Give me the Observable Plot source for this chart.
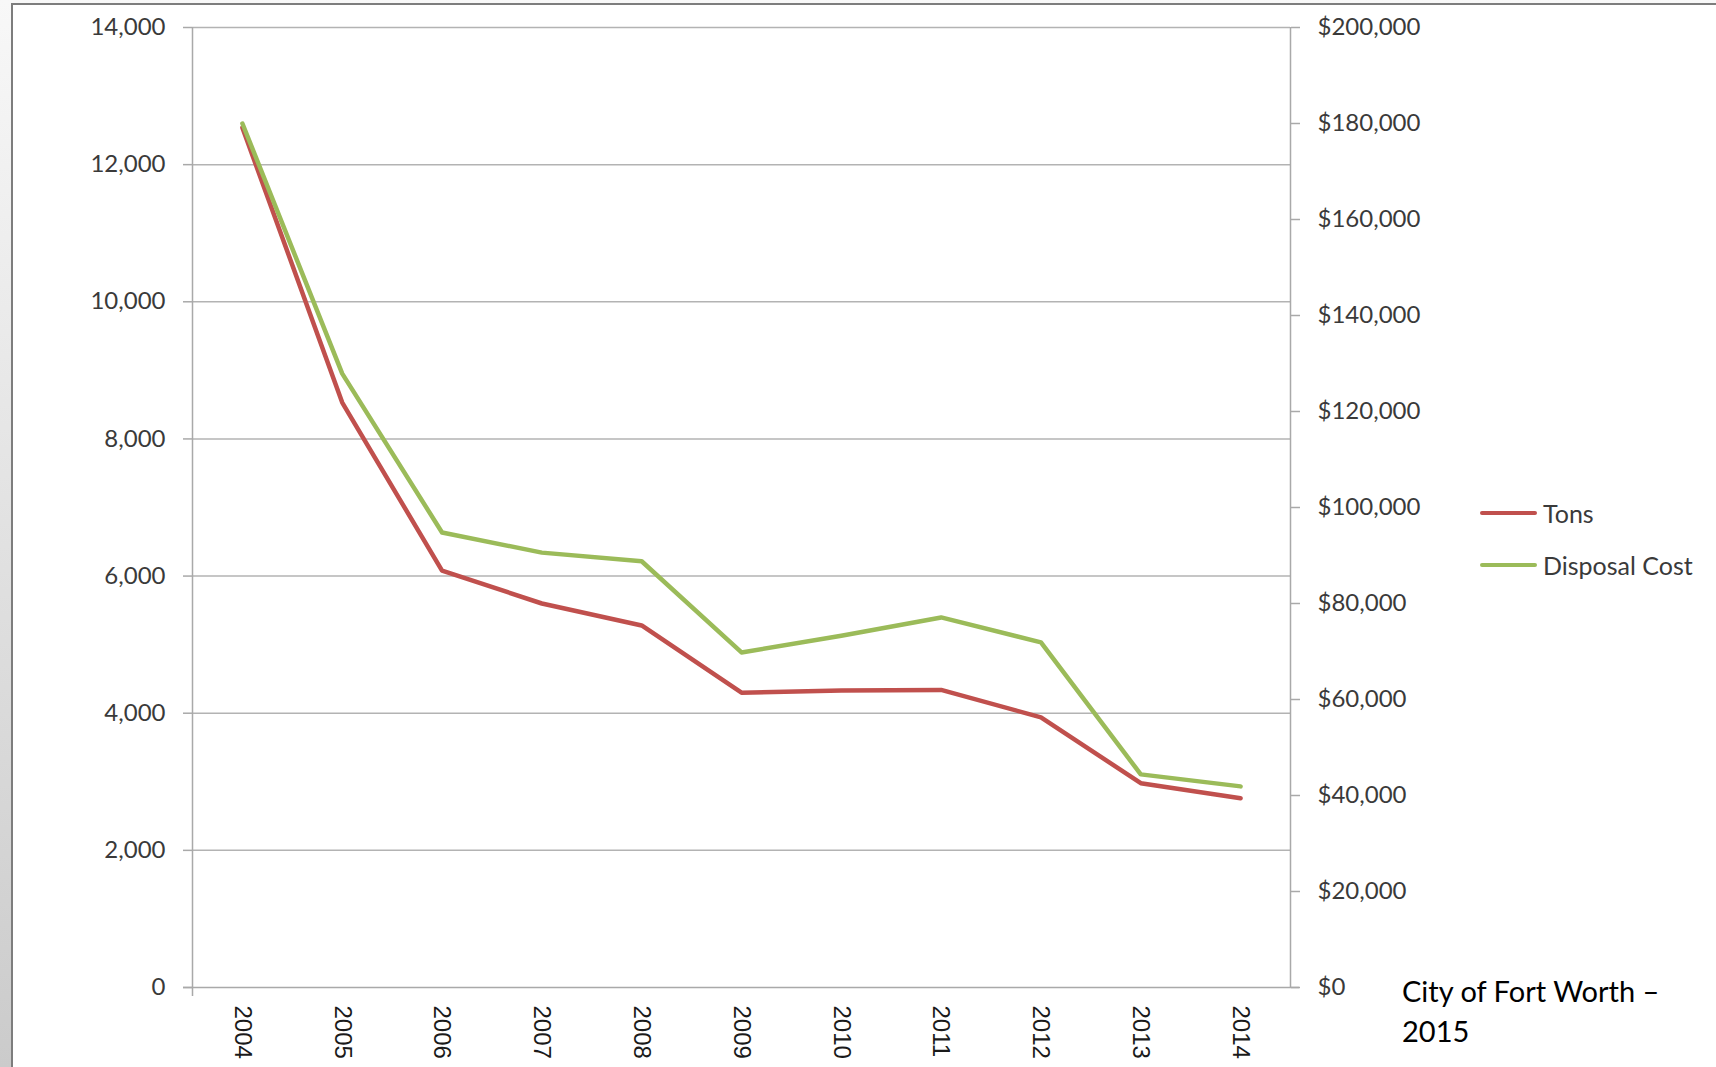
<!DOCTYPE html>
<html>
<head>
<meta charset="utf-8">
<script src="https://cdn.jsdelivr.net/npm/d3@7"></script>
<script src="https://cdn.jsdelivr.net/npm/@observablehq/plot@0.6"></script>
<style>
  html, body { margin: 0; padding: 0; width: 1716px; height: 1067px; overflow: hidden; }
  body { position: relative; background: linear-gradient(to bottom, #f8f8f8, #cbcbcb); font-family: Lato, sans-serif; }
  #frame { position: absolute; left: 11px; top: 3px; right: 0; bottom: 0; background: #fff;
           border-left: 2px solid #7d7d7d; border-top: 2px solid #7d7d7d; }
  #chart { position: absolute; left: 0; top: 0; }
  #legend { position: absolute; left: 1480px; top: 495px; }
  .item { display: flex; align-items: center; height: 36px; margin-bottom: 16px; }
  .key { width: 57px; height: 4px; border-radius: 2px; margin-right: 6px; }
  .lbl { font-family: Lato, sans-serif; font-size: 25px; color: #3a3a3a; line-height: 36px; }
  #caption { position: absolute; left: 1402px; top: 971px; font-family: Lato, sans-serif;
             font-size: 29px; line-height: 40px; color: #000; }
</style>
</head>
<body>
<div id="frame"><div id="chart"></div></div>
<div id="legend"></div>
<div id="caption">City of Fort Worth –<br>2015</div>
<script>
const years = [2004, 2005, 2006, 2007, 2008, 2009, 2010, 2011, 2012, 2013, 2014];
const tons = [12540, 8530, 6080, 5600, 5280, 4300, 4330, 4340, 3940, 2980, 2760];
const disposalCost = [180000, 127900, 94800, 90600, 88800, 69800, 73300, 77100, 71900, 44400, 41900];
const tonTicks = [0, 2000, 4000, 6000, 8000, 10000, 12000, 14000];
const costTicks = [0, 20000, 40000, 60000, 80000, 100000, 120000, 140000, 160000, 180000, 200000];
const seriesNames = ["Tons", "Disposal Cost"];
const seriesColors = ["#c0504d", "#9bbb59"];

const tonMax = tonTicks[tonTicks.length - 1];
const costMax = costTicks[costTicks.length - 1];
const k = tonMax / costMax;
const rows = years.map((year, i) => ({year, tons: tons[i], cost: disposalCost[i]}));
const xLo = years[0] - 0.5, xHi = years[years.length - 1] + 0.5;
const axisColor = "#a9a9a9";

const chart = Plot.plot({
  width: 1703,
  height: 1062,
  marginLeft: 179,
  marginRight: 426,
  marginTop: 22,
  marginBottom: 80,
  style: {background: "transparent", overflow: "visible"},
  x: {type: "linear", domain: [xLo, xHi], label: null},
  y: {domain: [0, tonMax], label: null},
  marks: [
    Plot.ruleY(tonTicks.filter(d => d > 0), {stroke: "#b3b3b3", strokeWidth: 1.5}),
    Plot.ruleX([xLo], {stroke: axisColor, strokeWidth: 1.5, insetBottom: -9}),
    Plot.ruleX([xHi], {stroke: axisColor, strokeWidth: 1.5}),
    Plot.ruleY([0], {stroke: axisColor, strokeWidth: 1.5, insetLeft: -9, insetRight: -9}),
    Plot.axisY(tonTicks, {
      anchor: "left", tickSize: 9, tickPadding: 18, stroke: axisColor, strokeWidth: 1.5,
      fill: "#3a3a3a", fontSize: 24, fontFamily: "Lato", tickFormat: d3.format(",")
    }),
    Plot.axisY(costTicks.map(d => d * k), {
      anchor: "right", tickSize: 9, tickPadding: 18, stroke: axisColor, strokeWidth: 1.5,
      fill: "#3a3a3a", fontSize: 24, fontFamily: "Lato",
      tickFormat: d => "$" + d3.format(",")(Math.round(d / k))
    }),
    Plot.axisX(years, {
      anchor: "bottom", tickSize: 0, tickPadding: 18, tickRotate: 90,
      fill: "#1a1a1a", fontSize: 24, fontFamily: "Liberation Sans", tickFormat: d => String(d)
    }),
    Plot.line(rows, {x: "year", y: "tons", stroke: seriesColors[0], strokeWidth: 4.5,
      strokeLinecap: "round", strokeLinejoin: "round"}),
    Plot.line(rows, {x: "year", y: d => d.cost * k, stroke: seriesColors[1], strokeWidth: 4.5,
      strokeLinecap: "round", strokeLinejoin: "round"})
  ]
});
document.getElementById("chart").appendChild(chart);

const legend = document.getElementById("legend");
seriesNames.forEach((name, i) => {
  const item = document.createElement("div");
  item.className = "item";
  const key = document.createElement("div");
  key.className = "key";
  key.style.background = seriesColors[i];
  const lbl = document.createElement("span");
  lbl.className = "lbl";
  lbl.textContent = name;
  item.appendChild(key);
  item.appendChild(lbl);
  legend.appendChild(item);
});
</script>
</body>
</html>
